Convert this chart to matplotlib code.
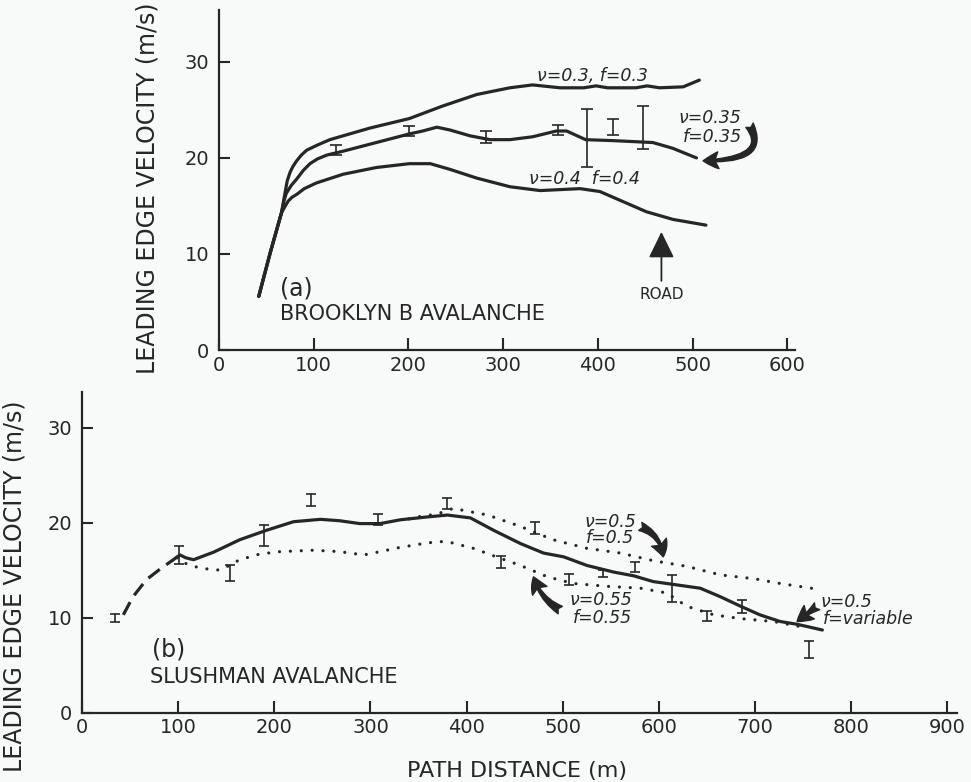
import numpy as np
import matplotlib
matplotlib.use("Agg")
import matplotlib.pyplot as plt

# ---- (a) Brooklyn B avalanche ----
a_nu03_x = [42, 54, 66, 69.6, 72, 75, 78, 82, 87, 92.5, 103, 117, 159, 201, 236, 272, 307, 331, 360, 385, 398, 410, 440, 452, 465, 490, 507]
a_nu03_y = [5.6, 10.1, 14.3, 16.3, 17.6, 18.5, 19.1, 19.7, 20.3, 20.8, 21.3, 21.9, 23.1, 24.1, 25.4, 26.6, 27.3, 27.6, 27.3, 27.3, 27.5, 27.3, 27.3, 27.5, 27.3, 27.4, 28.1]

a_nu035_x = [42, 54, 66, 68.5, 71, 76, 82, 89, 96, 104, 114, 131, 166, 201, 215, 230, 244, 265, 286, 307, 331, 356, 367, 387, 416, 458, 479, 504]
a_nu035_y = [5.6, 10.1, 14.3, 15.5, 16.3, 17.1, 17.8, 18.7, 19.4, 19.9, 20.3, 20.7, 21.6, 22.5, 22.8, 23.2, 22.9, 22.3, 21.9, 21.9, 22.2, 22.8, 22.8, 21.9, 21.8, 21.6, 21.0, 20.0]

a_nu04_x = [42, 54, 66, 70, 73, 77, 82, 90, 103, 131, 166, 201, 223, 244, 272, 307, 339, 381, 402, 423, 451, 479, 514]
a_nu04_y = [5.6, 10.1, 14.3, 15.0, 15.5, 15.9, 16.2, 16.8, 17.4, 18.3, 19.0, 19.4, 19.4, 18.8, 17.9, 17.0, 16.6, 16.8, 16.5, 15.6, 14.4, 13.6, 13.0]

a_err_x = [123.5, 200.5, 281.6, 358, 388, 416, 448]
a_err_lo = [20.3, 22.3, 21.6, 22.4, 19.1, 22.4, 20.9]
a_err_hi = [21.3, 23.3, 22.8, 23.4, 25.1, 24.0, 25.4]

# ---- (b) Slushman avalanche ----
b_dash_x = [43, 53, 67, 81, 95, 99]
b_dash_y = [10.3, 12.2, 14.0, 15.1, 16.1, 16.4]

b_var_x = [99, 102, 108, 116, 137, 164, 192, 220, 248, 268, 289, 310, 331, 359, 380, 404, 428, 456,
           480, 501, 525, 553, 574, 594, 622, 643, 664, 685, 705, 726, 744, 770]
b_var_y = [16.4, 16.6, 16.3, 16.1, 16.9, 18.2, 19.2, 20.1, 20.35, 20.2, 19.9, 19.9, 20.3, 20.6, 20.8, 20.5, 19.2, 17.8,
           16.8, 16.4, 15.5, 14.8, 14.4, 13.8, 13.4, 13.1, 12.2, 11.2, 10.3, 9.6, 9.3, 8.7]

b_nu05_x = [340, 348, 369, 386, 422, 456, 490, 525, 560, 594, 629, 664, 699, 726, 765]
b_nu05_y = [20.4, 20.6, 20.9, 21.5, 20.8, 19.6, 18.2, 17.3, 16.8, 16.0, 15.4, 14.5, 14.1, 13.6, 13.0]

b_nu055_x = [99, 102, 123, 144, 164, 185, 206, 241, 268, 293, 310, 331, 352, 369, 380, 407, 431, 456,
             484, 511, 546, 581, 608, 629, 657, 685, 719, 745]
b_nu055_y = [16.3, 15.9, 15.2, 15.0, 16.1, 16.7, 16.95, 17.1, 16.95, 16.6, 16.95, 17.4, 17.75, 18.0, 18.0, 17.3, 16.4, 15.5,
             14.3, 13.6, 13.3, 13.1, 12.6, 11.2, 10.3, 9.9, 9.6, 9.1]

b_err_x = [34.3, 101, 154, 189.4, 238, 308, 380, 435.7, 471, 506, 542, 575.5, 613.6, 650, 686.5, 756]
b_err_lo = [9.5, 15.7, 13.9, 17.5, 21.8, 19.8, 21.4, 15.2, 18.8, 13.4, 14.25, 14.8, 11.7, 9.6, 10.5, 5.8]
b_err_hi = [10.4, 17.5, 15.5, 19.8, 23.0, 20.9, 22.6, 16.5, 20.1, 14.6, 15.0, 15.9, 14.5, 10.7, 11.9, 7.5]

ink = '#262626'
bg = '#f8f9f9'
plt.rcParams['font.family'] = ['DejaVu Sans']

fig = plt.figure(figsize=(9.71, 7.82), dpi=100, facecolor=bg)
ax1 = fig.add_axes([219 / 971, 1 - 350 / 782, 576 / 971, 340 / 782])
ax2 = fig.add_axes([82 / 971, 1 - 712.7 / 782, 875 / 971, 320.7 / 782])


def style_axes(ax, xmax, ymax, xticks):
    ax.set_facecolor(bg)
    ax.set_xlim(0, xmax)
    ax.set_ylim(0, ymax)
    for s in ['top', 'right']:
        ax.spines[s].set_visible(False)
    for s in ['left', 'bottom']:
        ax.spines[s].set_linewidth(1.6)
        ax.spines[s].set_color(ink)
    ax.set_xticks(xticks)
    ax.set_yticks([0, 10, 20, 30])
    ax.tick_params(axis='x', direction='in', length=9, width=1.5, color=ink,
                   labelsize=14, labelcolor=ink, pad=4)
    ax.tick_params(axis='y', direction='in', length=8, width=1.5, color=ink,
                   labelsize=14, labelcolor=ink, pad=7)


def err(ax, xs, lo, hi, cap):
    lo = np.array(lo)
    hi = np.array(hi)
    ax.errorbar(xs, (lo + hi) / 2, yerr=(hi - lo) / 2, fmt='none', ecolor=ink,
                elinewidth=1.2, capsize=cap, capthick=1.2, zorder=3)


arrow_kw = dict(arrowstyle="fancy,head_length=0.5,head_width=0.55,tail_width=0.28",
                fc=ink, ec=ink, shrinkA=0, shrinkB=0, mutation_scale=22)

# ---- panel (a) ----
style_axes(ax1, 608, 35.4, range(0, 601, 100))
ax1.plot(a_nu03_x, a_nu03_y, color=ink, lw=2.3, solid_capstyle='round', solid_joinstyle='round')
ax1.plot(a_nu035_x, a_nu035_y, color=ink, lw=2.3, solid_capstyle='round', solid_joinstyle='round')
ax1.plot(a_nu04_x, a_nu04_y, color=ink, lw=2.3, solid_capstyle='round', solid_joinstyle='round')
err(ax1, a_err_x, a_err_lo, a_err_hi, 4)

itk = dict(style='italic', fontsize=12.5, color=ink, ha='center', va='center')
ax1.text(394.5, 28.5, 'ν=0.3, f=0.3', **itk)
ax1.text(518, 24.2, 'ν=0.35', **itk)
ax1.text(521, 22.2, 'f=0.35', **itk)
ax1.text(386, 17.8, 'ν=0.4  f=0.4', **itk)
ax1.annotate('', xy=(511, 19.7), xytext=(560, 23.4),
             arrowprops=dict(connectionstyle="angle3,angleA=-60,angleB=0", **arrow_kw))
ax1.annotate('', xy=(467, 12.3), xytext=(467, 7.2),
             arrowprops=dict(arrowstyle="-|>,head_length=0.45,head_width=0.22", lw=1.3,
                             fc=ink, ec=ink, shrinkA=0, shrinkB=0, mutation_scale=36))
ax1.text(467, 5.8, 'ROAD', fontsize=11, color=ink, ha='center', va='center')
ax1.text(64, 6.4, '(a)', fontsize=17, color=ink, ha='left', va='center')
ax1.text(64, 3.7, 'BROOKLYN B AVALANCHE', fontsize=15, color=ink, ha='left', va='center')

ax1.set_xlabel('PATH DISTANCE (m)', fontsize=16, color=ink, va='center')
ax1.xaxis.set_label_coords(0.5, (350 - 405) / 340)
ax1.set_ylabel('LEADING EDGE VELOCITY (m/s)', fontsize=17, color=ink, va='center')
ax1.yaxis.set_label_coords((148 - 219) / 576, (350 - 188) / 340)

# ---- panel (b) ----
style_axes(ax2, 910, 33.75, range(0, 901, 100))
ax2.plot(b_dash_x, b_dash_y, color=ink, lw=2.3, dashes=(4.5, 2.5))
ax2.plot(b_var_x, b_var_y, color=ink, lw=2.3, solid_capstyle='round', solid_joinstyle='round')
ax2.plot(b_nu05_x, b_nu05_y, color=ink, lw=2.3, linestyle=(0, (0.01, 3.4)), dash_capstyle='round')
ax2.plot(b_nu055_x, b_nu055_y, color=ink, lw=2.3, linestyle=(0, (0.01, 3.4)), dash_capstyle='round')
err(ax2, b_err_x, b_err_lo, b_err_hi, 3.6)

ax2.text(549, 20.1, 'ν=0.5', **itk)
ax2.text(549, 18.4, 'f=0.5', **itk)
ax2.text(540, 11.9, 'ν=0.55', **itk)
ax2.text(541, 10.0, 'f=0.55', **itk)
ax2.text(768, 11.7, 'ν=0.5', style='italic', fontsize=12.5, color=ink, ha='left', va='center')
ax2.text(770, 9.9, 'f=variable', style='italic', fontsize=12.5, color=ink, ha='left', va='center')
ax2.annotate('', xy=(604.5, 16.4), xytext=(580.6, 19.6),
             arrowprops=dict(connectionstyle="arc3,rad=-0.3", **arrow_kw))
ax2.annotate('', xy=(469.6, 14.3), xytext=(497.4, 10.8),
             arrowprops=dict(connectionstyle="arc3,rad=-0.2", **arrow_kw))
ax2.annotate('', xy=(743.7, 9.6), xytext=(764.5, 11.2),
             arrowprops=dict(connectionstyle="arc3,rad=0", **arrow_kw))
ax2.text(73, 6.6, '(b)', fontsize=17, color=ink, ha='left', va='center')
ax2.text(71, 3.8, 'SLUSHMAN AVALANCHE', fontsize=15, color=ink, ha='left', va='center')

ax2.set_xlabel('PATH DISTANCE (m)', fontsize=16, color=ink, va='center')
ax2.xaxis.set_label_coords(0.497, (712.7 - 771) / 320.7)
ax2.set_ylabel('LEADING EDGE VELOCITY (m/s)', fontsize=17, color=ink, va='center')
ax2.yaxis.set_label_coords((14 - 82) / 875, (712.7 - 586) / 320.7)

fig.savefig('out.png', dpi=100, facecolor=bg)
